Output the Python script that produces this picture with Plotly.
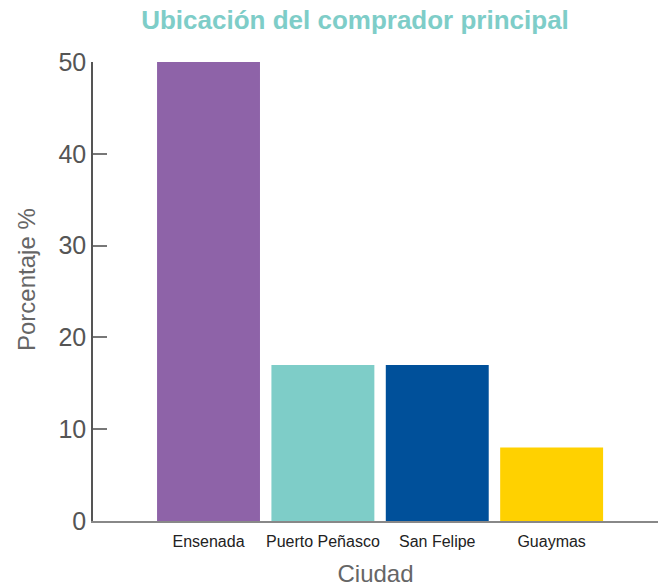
import plotly.graph_objects as go

cities = ["Ensenada", "Puerto Peñasco", "San Felipe", "Guaymas"]
percent = [50, 17, 17, 8]
colors = ["#8E63A8", "#7ECDC8", "#00509A", "#FFD100"]
y_ticks = [0, 10, 20, 30, 40, 50]

fig = go.Figure(go.Bar(x=cities, y=percent, marker=dict(color=colors, line=dict(width=0)), width=0.9))

fig.update_layout(
    width=658, height=587,
    margin=dict(l=93, r=0, t=62, b=66, autoexpand=False),
    paper_bgcolor="white", plot_bgcolor="white",
    font=dict(family="Liberation Sans, Arial, sans-serif"),
    title=dict(text="<b>Ubicación del comprador principal</b>", x=355/658, xanchor="center",
               y=1-20/587, yanchor="middle", font=dict(size=26, color="#7ECDC8")),
    showlegend=False,
    bargap=0.1,
    annotations=[dict(text="Porcentaje %", textangle=-90, showarrow=False,
                      xref="paper", yref="paper", x=-67/565, y=(521-280)/459,
                      xanchor="center", yanchor="middle",
                      font=dict(size=24, color="#666666"))],
)
fig.update_xaxes(
    type="category", range=[-1.01, 3.93], automargin=False,
    showline=True, linecolor="#888888", linewidth=1.5,
    ticks="", showgrid=False, zeroline=False, ticklabelstandoff=5,
    tickfont=dict(size=16, color="#222222"),
    title=dict(text="Ciudad", font=dict(size=24, color="#666666"), standoff=20),
)
fig.update_yaxes(
    range=[0, 50], tickvals=y_ticks, automargin=False,
    showline=True, linecolor="#555555", linewidth=1.5,
    ticks="inside", ticklen=14, tickcolor="#777777", tickwidth=1.5,
    showgrid=False, zeroline=False,
    tickfont=dict(size=25, color="#555555"),
)
fig.write_html("out.html", post_script="document.body.style.margin='0';",
               config={"displayModeBar": False})
